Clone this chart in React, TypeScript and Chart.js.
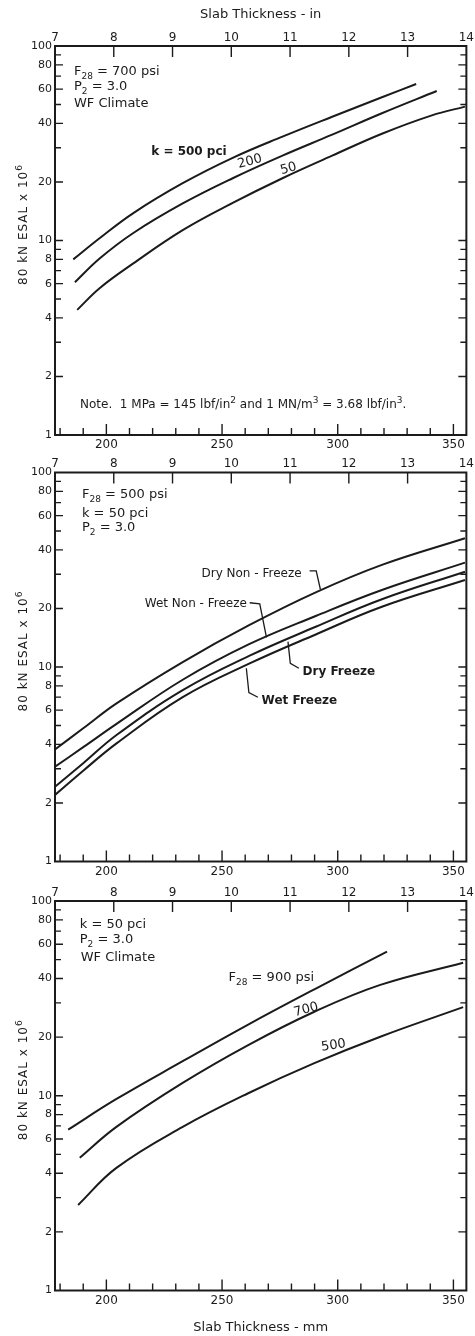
import React, { useEffect, useRef } from "react";
import { Chart, registerables } from "chart.js";

Chart.register(...registerables);

const FONT = '"DejaVu Sans", "Liberation Sans", sans-serif';
const INK = "#1b1b1b";

// ---------- shared axes ----------
const mmMin = 177.8;
const mmMax = 355.6;
const inchMin = 7;
const inchMax = 14;
const mmTicks = [180, 190, 200, 210, 220, 230, 240, 250, 260, 270, 280, 290, 300, 310, 320, 330, 340, 350];
const mmLabels = [200, 250, 300, 350];
const inchTicks = [7, 8, 9, 10, 11, 12, 13, 14];
const esalTicks = [1, 2, 3, 4, 5, 6, 7, 8, 9, 10, 20, 30, 40, 50, 60, 70, 80, 90, 100];
const esalLabels = [1, 2, 4, 6, 8, 10, 20, 40, 60, 80, 100];
const topTitle = "Slab Thickness - in";
const bottomTitle = "Slab Thickness - mm";
const yTitle = "80 kN ESAL x 10";

// ---------- panel 1 : F28 = 700 psi, k varies ----------
const p1K500Mm = [185.7, 197.2, 211.5, 233.0, 254.6, 276.1, 297.6, 319.1, 333.9];
const p1K500 = [8.0, 10.3, 13.8, 19.7, 26.6, 34.2, 43.3, 54.5, 63.8];
const p1K200Mm = [186.4, 197.2, 211.5, 233.0, 254.6, 276.1, 297.6, 319.1, 342.8];
const p1K200 = [6.1, 8.1, 10.9, 15.5, 20.9, 27.3, 35.0, 45.1, 58.7];
const p1K50Mm = [187.4, 197.2, 211.5, 233.0, 254.6, 276.1, 297.6, 319.1, 340.7, 355.0];
const p1K50 = [4.4, 5.7, 7.6, 11.3, 15.6, 20.9, 27.3, 35.4, 44.0, 48.8];

// ---------- panel 2 : climates ----------
const p2Mm = [177.8, 190.0, 204.4, 233.0, 261.7, 290.5, 319.1, 355.0];
const p2DryNonFreeze = [3.77, 4.84, 6.5, 10.6, 16.4, 24.2, 33.5, 45.9];
const p2WetNonFreeze = [3.07, 3.87, 5.1, 8.6, 13.1, 18.3, 24.9, 34.4];
const p2DryFreeze = [2.42, 3.2, 4.47, 7.6, 11.4, 16.1, 22.3, 30.9];
const p2WetFreeze = [2.2, 2.93, 4.05, 7.0, 10.4, 14.7, 20.4, 28.0];

// ---------- panel 3 : F28 varies ----------
const p3F900Mm = [183.5, 204.2, 232.8, 261.3, 289.9, 321.3];
const p3F900 = [6.7, 9.6, 15.0, 23.2, 35.2, 55.0];
const p3F700Mm = [188.5, 204.2, 232.8, 261.3, 289.9, 318.4, 354.2];
const p3F700 = [4.8, 6.9, 11.6, 18.2, 27.0, 37.1, 48.2];
const p3F500Mm = [187.8, 204.2, 232.8, 261.3, 289.9, 318.4, 354.2];
const p3F500 = [2.75, 4.25, 6.9, 10.3, 14.7, 20.1, 28.5];

type Part = { t: string; k?: "sub" | "sup" };
type Note = {
  at: [number, number];
  parts: Part[];
  size?: number;
  bold?: boolean;
  rot?: number;
  align?: "left" | "center";
};
type Series = { mm: number[]; esal: number[] };
type PanelCfg = {
  top: number;
  height: number;
  plotTop: number;
  plotBottom: number;
  plotRight: number;
  series: Series[];
  notes: Note[];
  leaders: [number, number][][];
  topTitle?: string;
  bottomTitle?: string;
  yShift: number;
};

const P = (t: string): Part => ({ t });
const SUB = (t: string): Part => ({ t, k: "sub" });
const SUP = (t: string): Part => ({ t, k: "sup" });

const panels: PanelCfg[] = [
  {
    top: 0,
    height: 452,
    plotTop: 46,
    plotBottom: 435,
    plotRight: 468,
    series: [
      { mm: p1K500Mm, esal: p1K500 },
      { mm: p1K200Mm, esal: p1K200 },
      { mm: p1K50Mm, esal: p1K50 },
    ],
    notes: [
      { at: [186.0, 71.0], parts: [P("F"), SUB("28"), P(" = 700 psi")] },
      { at: [186.0, 59.4], parts: [P("P"), SUB("2"), P(" = 3.0")] },
      { at: [186.0, 48.6], parts: [P("WF Climate")] },
      { at: [219.4, 27.5], parts: [P("k = 500 pci")], bold: true, size: 12 },
      { at: [262.4, 24.5], parts: [P("200")], align: "center", rot: -15 },
      { at: [279.1, 22.5], parts: [P("50")], align: "center", rot: -15 },
      {
        at: [188.6, 1.377],
        size: 12,
        parts: [
          P("Note.  1 MPa = 145 lbf/in"),
          SUP("2"),
          P(" and 1 MN/m"),
          SUP("3"),
          P(" = 3.68 lbf/in"),
          SUP("3"),
          P("."),
        ],
      },
    ],
    leaders: [],
    topTitle,
    yShift: -16,
  },
  {
    top: 452,
    height: 428,
    plotTop: 20.5,
    plotBottom: 409.5,
    plotRight: 467,
    series: [
      { mm: p2Mm, esal: p2DryNonFreeze },
      { mm: p2Mm, esal: p2WetNonFreeze },
      { mm: p2Mm, esal: p2DryFreeze },
      { mm: p2Mm, esal: p2WetFreeze },
    ],
    notes: [
      { at: [189.45, 73.9], parts: [P("F"), SUB("28"), P(" = 500 psi")] },
      { at: [189.45, 59.0], parts: [P("k = 50 pci")] },
      { at: [189.45, 50.0], parts: [P("P"), SUB("2"), P(" = 3.0")] },
      { at: [241.1, 29.1], parts: [P("Dry Non - Freeze")], size: 12 },
      { at: [216.6, 20.3], parts: [P("Wet Non - Freeze")], size: 12 },
      { at: [284.8, 9.1], parts: [P("Dry Freeze")], size: 12, bold: true },
      { at: [267.1, 6.45], parts: [P("Wet Freeze")], size: 12, bold: true },
    ],
    leaders: [
      [[287.85, 31.2], [290.7, 31.2], [292.5, 25.1]],
      [[261.95, 21.4], [266.3, 21.1], [269.2, 14.2]],
      [[278.5, 13.5], [279.5, 10.45], [283.2, 9.85]],
      [[260.5, 9.85], [261.6, 7.38], [265.5, 6.99]],
    ],
    yShift: -16,
  },
  {
    top: 880,
    height: 456,
    plotTop: 21,
    plotBottom: 410.5,
    plotRight: 470,
    series: [
      { mm: p3F900Mm, esal: p3F900 },
      { mm: p3F700Mm, esal: p3F700 },
      { mm: p3F500Mm, esal: p3F500 },
    ],
    notes: [
      { at: [188.5, 72.7], parts: [P("k = 50 pci")] },
      { at: [188.5, 60.9], parts: [P("P"), SUB("2"), P(" = 3.0")] },
      { at: [188.9, 49.2], parts: [P("WF Climate")] },
      { at: [252.8, 38.8], parts: [P("F"), SUB("28"), P(" = 900 psi")] },
      { at: [286.7, 26.6], parts: [P("700")], align: "center", rot: -15 },
      { at: [298.4, 17.4], parts: [P("500")], align: "center", rot: -8 },
    ],
    leaders: [],
    bottomTitle,
    yShift: -16,
  },
];

function drawParts(
  ctx: CanvasRenderingContext2D,
  parts: Part[],
  size: number,
  bold: boolean,
  align: "left" | "center"
) {
  const w = bold ? "bold " : "";
  const fontFor = (k?: string) => `${w}${k ? Math.round(size * 0.72) : size}px ${FONT}`;
  ctx.textAlign = "left";
  ctx.textBaseline = "alphabetic";
  let total = 0;
  const widths = parts.map((p) => {
    ctx.font = fontFor(p.k);
    const m = ctx.measureText(p.t).width;
    total += m;
    return m;
  });
  let x = align === "center" ? -total / 2 : 0;
  parts.forEach((p, i) => {
    ctx.font = fontFor(p.k);
    const dy = p.k === "sub" ? size * 0.32 : p.k === "sup" ? -size * 0.42 : 0;
    ctx.fillText(p.t, x, dy);
    x += widths[i];
  });
}

function framePlugin(cfg: PanelCfg) {
  return {
    id: "frame" + cfg.top,
    afterDraw(chart: any) {
      const { ctx, chartArea: a, scales } = chart;
      const sx = scales.x;
      const sx2 = scales.x2;
      const sy = scales.y;
      ctx.save();
      ctx.strokeStyle = INK;
      ctx.fillStyle = INK;
      ctx.lineWidth = 2;
      ctx.strokeRect(a.left, a.top, a.right - a.left, a.bottom - a.top);

      ctx.lineWidth = 1.4;
      ctx.beginPath();
      for (const t of sx.ticks) {
        const px = sx.getPixelForValue(t.value);
        const len = mmLabels.includes(t.value) ? 11 : 7;
        ctx.moveTo(px, a.bottom);
        ctx.lineTo(px, a.bottom - len);
      }
      for (const t of sx2.ticks) {
        if (t.value <= inchMin || t.value >= inchMax) continue;
        const px = sx2.getPixelForValue(t.value);
        ctx.moveTo(px, a.top);
        ctx.lineTo(px, a.top + 11);
      }
      for (const t of sy.ticks) {
        if (t.value <= 1 || t.value >= 100) continue;
        const py = sy.getPixelForValue(t.value);
        const len = esalLabels.includes(t.value) ? 8 : 6;
        ctx.moveTo(a.left, py);
        ctx.lineTo(a.left + len, py);
        ctx.moveTo(a.right, py);
        ctx.lineTo(a.right - len, py);
      }
      ctx.stroke();

      // leaders
      ctx.lineWidth = 1.3;
      for (const ld of cfg.leaders) {
        ctx.beginPath();
        ld.forEach(([m, v], i) => {
          const px = sx.getPixelForValue(m);
          const py = sy.getPixelForValue(v);
          if (i === 0) ctx.moveTo(px, py);
          else ctx.lineTo(px, py);
        });
        ctx.stroke();
      }

      // y title
      ctx.save();
      ctx.translate(a.left - 28, (a.top + a.bottom) / 2 + cfg.yShift);
      ctx.rotate(-Math.PI / 2);
      (ctx as any).letterSpacing = "1px";
      drawParts(ctx, [P(yTitle), SUP("6")], 12, false, "center");
      ctx.restore();

      // notes
      for (const n of cfg.notes) {
        ctx.save();
        ctx.translate(sx.getPixelForValue(n.at[0]), sy.getPixelForValue(n.at[1]));
        if (n.rot) ctx.rotate((n.rot * Math.PI) / 180);
        drawParts(ctx, n.parts, n.size ?? 13, !!n.bold, n.align ?? "left");
        ctx.restore();
      }
      ctx.restore();
    },
  };
}

function buildConfig(cfg: PanelCfg): any {
  const tickFont = { family: FONT, size: 12 };
  return {
    type: "line",
    data: {
      datasets: cfg.series.map((s) => ({
        data: s.mm.map((x, i) => ({ x, y: s.esal[i] })),
        borderColor: INK,
        borderWidth: 2,
        pointRadius: 0,
        fill: false,
        tension: 0.4,
        xAxisID: "x",
        yAxisID: "y",
      })),
    },
    options: {
      animation: false,
      responsive: false,
      devicePixelRatio: 1,
      events: [],
      layout: { padding: { left: 0, right: 475 - cfg.plotRight, top: 0, bottom: 0 } },
      plugins: {
        legend: { display: false },
        tooltip: { enabled: false },
        title: { display: false },
      },
      scales: {
        x: {
          type: "linear",
          position: "bottom",
          min: mmMin,
          max: mmMax,
          afterBuildTicks: (s: any) => {
            s.ticks = mmTicks.map((value) => ({ value }));
          },
          afterFit: (s: any) => {
            s.height = cfg.height - cfg.plotBottom;
          },
          grid: { display: false, drawTicks: false },
          border: { display: false },
          ticks: {
            autoSkip: false,
            maxRotation: 0,
            padding: 3,
            color: INK,
            font: tickFont,
            callback: (v: number) => (mmLabels.includes(v) ? String(v) : ""),
          },
          title: cfg.bottomTitle
            ? {
                display: true,
                text: cfg.bottomTitle,
                color: INK,
                font: { family: FONT, size: 13 },
                padding: { top: 0, bottom: 1 },
              }
            : { display: false },
        },
        x2: {
          type: "linear",
          position: "top",
          min: inchMin,
          max: inchMax,
          afterBuildTicks: (s: any) => {
            s.ticks = inchTicks.map((value) => ({ value }));
          },
          afterFit: (s: any) => {
            s.height = cfg.plotTop;
          },
          grid: { display: false, drawTicks: false },
          border: { display: false },
          ticks: {
            autoSkip: false,
            maxRotation: 0,
            padding: 1,
            color: INK,
            font: tickFont,
            callback: (v: number) => String(v),
          },
          title: cfg.topTitle
            ? {
                display: true,
                text: cfg.topTitle,
                color: INK,
                font: { family: FONT, size: 13 },
                padding: { top: 7, bottom: 0 },
              }
            : { display: false },
        },
        y: {
          type: "logarithmic",
          position: "left",
          min: 1,
          max: 100,
          afterBuildTicks: (s: any) => {
            s.ticks = esalTicks.map((value) => ({ value }));
          },
          afterFit: (s: any) => {
            s.width = 55;
          },
          grid: { display: false, drawTicks: false },
          border: { display: false },
          ticks: {
            autoSkip: false,
            padding: 3,
            color: INK,
            font: { family: FONT, size: 11 },
            callback: (v: number) => (esalLabels.includes(v) ? String(v) : ""),
          },
        },
      },
    },
    plugins: [framePlugin(cfg)],
  };
}

function Panel({ cfg }: { cfg: PanelCfg }) {
  const ref = useRef<HTMLCanvasElement>(null);
  useEffect(() => {
    if (!ref.current) return;
    const chart = new Chart(ref.current, buildConfig(cfg));
    return () => chart.destroy();
  }, [cfg]);
  return (
    <canvas
      ref={ref}
      width={475}
      height={cfg.height}
      style={{ position: "absolute", left: 0, top: cfg.top, width: 475, height: cfg.height, display: "block" }}
    />
  );
}

export default function App() {
  return (
    <div style={{ position: "absolute", left: 0, top: 0, width: 475, height: 1336, background: "#fff" }}>
      {panels.map((p) => (
        <Panel key={p.top} cfg={p} />
      ))}
    </div>
  );
}
